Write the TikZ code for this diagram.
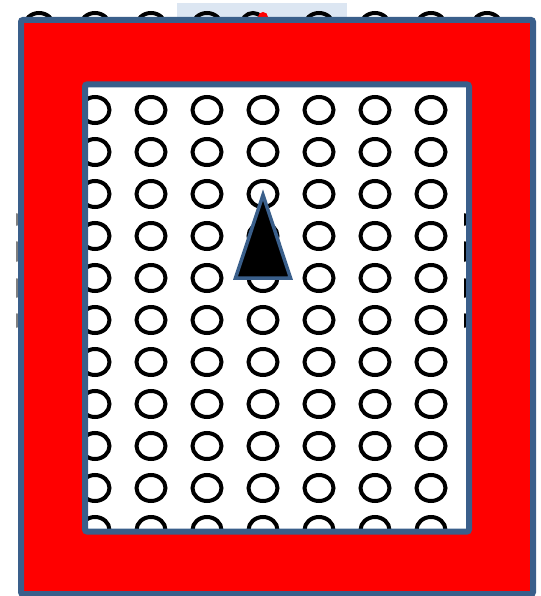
\documentclass[tikz,border=0pt]{standalone}
\definecolor{frameblue}{RGB}{58,95,139}
\definecolor{patchblue}{RGB}{220,230,242}
\begin{document}
\begin{tikzpicture}[x=1pt,y=-1pt,
  ring/.style={draw=black,line width=4pt},
  borderline/.style={draw=frameblue,line width=6pt},
  frag/.style={line width=2pt,line cap=round}]
\useasboundingbox[fill=white] (0,0) rectangle (540,596);
% grid of rings
\foreach \i in {0,...,8}{
  \foreach \j in {0,...,12}{
    \draw[ring] (39+56*\i,26+42*\j) ellipse [x radius=14.5,y radius=13];
  }
}
% light patch on top
\fill[patchblue] (177,3) rectangle (347,18);
\begin{scope}
  \clip (177,3) rectangle (347,18);
  \draw[ring] (207,26) ellipse [x radius=14.5,y radius=13];
  \draw[ring] (319,26) ellipse [x radius=14.5,y radius=13];
  \draw[ring] (253,26) ellipse [x radius=12,y radius=13];
  \fill[red] (263,17) circle (5);
\end{scope}
% red frame
\fill[red,even odd rule] (21,20) rectangle (533,594) (85,84.5) rectangle (469,531.5);
\draw[borderline,rounded corners=2pt] (21,20) rectangle (533,594);
\draw[borderline,rounded corners=2pt] (85,84.5) rectangle (469,531.5);
% small dashes beside the borders
\foreach \a/\b in {214/225,242/261,279/297,314/327}{
  \draw[frag,gray] (17,\a) -- (17,\b);
  \draw[frag,black] (465,\a) -- (465,\b);
}
% triangle
\node[coordinate] (apex) at (263,195) {};
\node[coordinate] (bl) at (235.5,278) {};
\node[coordinate] (br) at (290.5,278) {};
\filldraw[fill=black,draw=frameblue,line width=3.5pt,line join=miter] (apex) -- (br) -- (bl) -- cycle;
\end{tikzpicture}
\end{document}
